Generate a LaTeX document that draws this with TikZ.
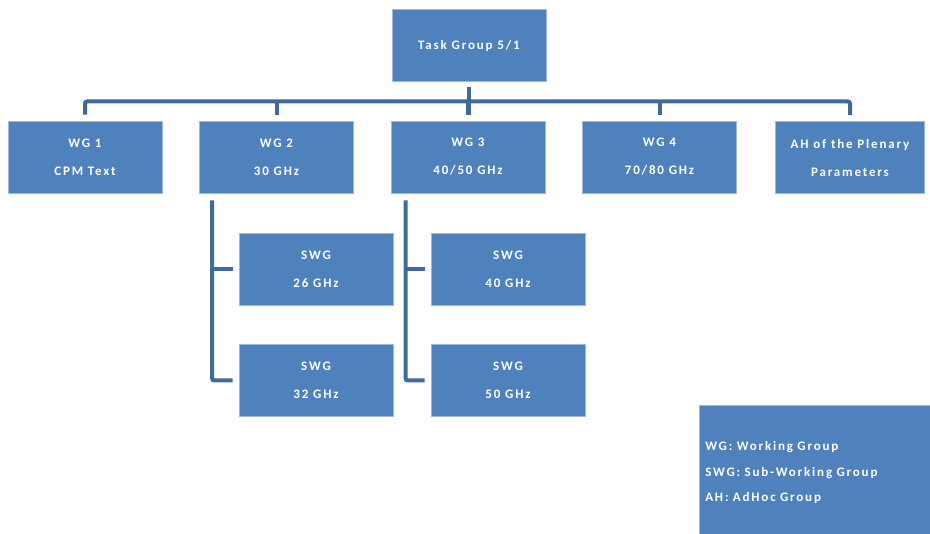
\documentclass[tikz,border=0pt]{standalone}
\usepackage{fontspec}
\newfontfamily\boxfont{Carlito}[LetterSpace=14]
\definecolor{boxblue}{HTML}{4F81BD}
\definecolor{lineblue}{HTML}{41699E}
\tikzset{
every picture/.style={
line width=1pt
},
grp/.style={fill=boxblue, draw=boxblue!55!white, line width=0.6pt, text=white, align=center,
  minimum width=154pt, minimum height=72pt, inner sep=0pt,
  font=\boxfont\bfseries\fontsize{13}{28}\selectfont},
conn/.style={draw=lineblue, line width=4pt, rounded corners=2pt}
}

\begin{document}
\begin{tikzpicture}[x=1pt, y=-1pt]
  \useasboundingbox (0,0) rectangle (930,534);

  \node (tg) [grp] at (469,45.5) {Task Group 5/1};

  \node (wg1) [grp] at (85,157) {WG 1\\CPM Text};
  \node (wg2) [grp] at (276.5,157) {WG 2\\30 GHz};
  \node (wg3) [grp] at (468,157) {WG 3\\40/50 GHz};
  \node (wg4) [grp] at (659.5,157) {WG 4\\70/80 GHz};
  \node (ah) [grp, minimum width=149pt] at (850,157.5) {AH of the Plenary\\Parameters};

  \node (swg26) [grp] at (316,269) {SWG\\26 GHz};
  \node (swg32) [grp] at (316,380.5) {SWG\\32 GHz};
  \node (swg40) [grp] at (508,269) {SWG\\40 GHz};
  \node (swg50) [grp] at (508,380.5) {SWG\\50 GHz};

  \node (key) [grp, anchor=north west, minimum width=240pt, minimum height=135pt, inner xsep=6pt,
    text width=228pt, align=left, font=\boxfont\bfseries\fontsize{13}{25.5}\selectfont] at (699,405)
    {WG: Working Group\\SWG: Sub-Working Group\\AH: AdHoc Group};

  % bus from the task group to the working groups
  \coordinate (bus) at (0,101.5);
  \draw [conn] ([yshift=6pt]wg1.north) |- (bus -| ah.north) -- ([yshift=6pt]ah.north);
  \foreach \g in {wg2,wg3,wg4}
    \draw [conn] (bus -| \g.north) -- ([yshift=6pt]\g.north);
  \draw [conn] ([yshift=-5pt]tg.south) -- ([yshift=6pt]tg.south |- wg3.north);

  % sub-working groups
  \coordinate (v2) at ([xshift=13pt,yshift=-7pt]wg2.south west);
  \coordinate (v3) at ([xshift=15pt,yshift=-7pt]wg3.south west);
  \draw [conn] (v2) |- ([xshift=-6pt]swg32.west);
  \draw [conn] (v2 |- swg26.west) -- ([xshift=-6pt]swg26.west);
  \draw [conn] (v3) |- ([xshift=-6pt]swg50.west);
  \draw [conn] (v3 |- swg40.west) -- ([xshift=-6pt]swg40.west);

\end{tikzpicture}
\end{document}
